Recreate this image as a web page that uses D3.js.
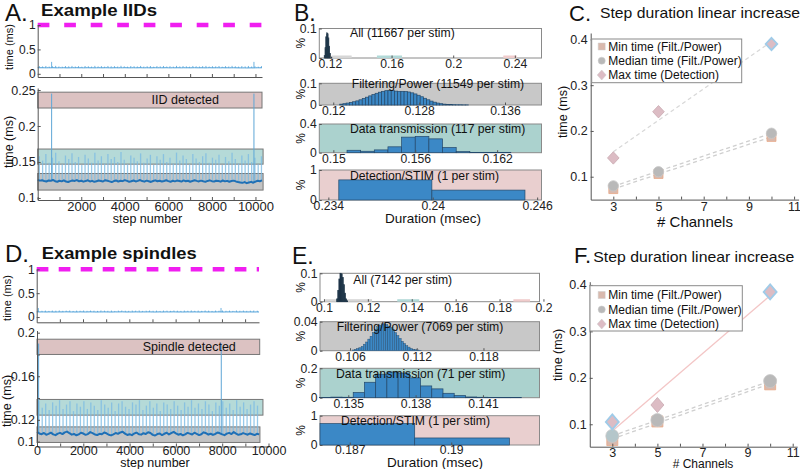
<!DOCTYPE html>
<html>
<head>
<meta charset="utf-8">
<script src="https://cdn.jsdelivr.net/npm/d3@7"></script>
<style>
body { margin: 0; background: #fff; }
</style>
</head>
<body>
<div id="chart"></div>
<script>
const FONT = "'Liberation Sans', Arial, Helvetica, sans-serif";

// ---------------- data ----------------
// step-time traces (ms): baseline sampled every 100 steps, one transmission spike every 150 steps
const baseEvery = 100;
const spikeEvery = 150;
const spikeOffset = 75;
const threshold = 1;

const iidBase = [0.1252,0.1241,0.1247,0.1236,0.1229,0.1244,0.1238,0.1250,0.1233,0.1226,
  0.1239,0.1231,0.1245,0.1228,0.1222,0.1234,0.1243,0.1237,0.1249,0.1232,
  0.1240,0.1227,0.1235,0.1246,0.1230,0.1238,0.1224,0.1233,0.1242,0.1236,
  0.1229,0.1247,0.1239,0.1231,0.1221,0.1235,0.1244,0.1228,0.1240,0.1234,
  0.1248,0.1237,0.1226,0.1232,0.1243,0.1230,0.1238,0.1249,0.1235,0.1227,
  0.1241,0.1233,0.1223,0.1236,0.1245,0.1232,0.1240,0.1229,0.1237,0.1246,
  0.1234,0.1225,0.1239,0.1231,0.1242,0.1236,0.1228,0.1244,0.1233,0.1239,
  0.1226,0.1235,0.1247,0.1238,0.1230,0.1241,0.1232,0.1224,0.1237,0.1245,
  0.1234,0.1229,0.1240,0.1236,0.1227,0.1243,0.1231,0.1238,0.1226,0.1235,
  0.1241,0.1230,0.1222,0.1216,0.1210,0.1221,0.1206,0.1215,0.1224,0.1212,
  0.1228,0.1239,0.1233,0.1245];
const iidSpike = [0.158,0.152,0.161,0.149,0.156,0.163,0.151,0.147,0.159,0.154,
  0.162,0.150,0.157,0.146,0.160,0.155,0.149,0.163,0.152,0.158,
  0.148,0.161,0.154,0.157,0.150,0.164,0.153,0.147,0.159,0.156,
  0.151,0.162,0.149,0.155,0.160,0.146,0.158,0.153,0.161,0.150,
  0.156,0.148,0.163,0.152,0.159,0.154,0.147,0.161,0.155,0.150,
  0.158,0.162,0.149,0.156,0.153,0.160,0.146,0.157,0.151,0.163,
  0.154,0.148,0.159,0.152,0.161,0.150,0.156,0.147,0.158];
const iidBigSteps = [640, 9930];
const iidBigTime = [0.245, 0.245];
const iidBoxLo = [0.225, 0.147, 0.111];
const iidBoxHi = [0.247, 0.168, 0.134];
const iidBoxEnd = [10300, 10350, 10350];

const spinBase = [0.1088,0.1075,0.1068,0.1079,0.1063,0.1071,0.1082,0.1066,0.1059,0.1073,
  0.1080,0.1069,0.1085,0.1092,0.1077,0.1064,0.1070,0.1058,0.1067,0.1081,
  0.1074,0.1062,0.1069,0.1087,0.1078,0.1065,0.1060,0.1072,0.1068,0.1083,
  0.1076,0.1063,0.1057,0.1066,0.1079,0.1071,0.1084,0.1090,0.1073,0.1061,
  0.1068,0.1059,0.1075,0.1082,0.1067,0.1064,0.1077,0.1070,0.1086,0.1079,
  0.1062,0.1056,0.1069,0.1074,0.1060,0.1072,0.1081,0.1066,0.1078,0.1089,
  0.1075,0.1063,0.1070,0.1058,0.1067,0.1080,0.1073,0.1065,0.1082,0.1071,
  0.1060,0.1068,0.1085,0.1077,0.1064,0.1072,0.1061,0.1070,0.1083,0.1076,
  0.1066,0.1059,0.1073,0.1080,0.1069,0.1087,0.1074,0.1062,0.1067,0.1078,
  0.1071,0.1063,0.1075,0.1068,0.1060,0.1072,0.1066];
const spinSpike = [0.137,0.131,0.135,0.129,0.136,0.133,0.138,0.130,0.134,0.137,
  0.128,0.135,0.132,0.137,0.130,0.136,0.133,0.129,0.138,0.134,
  0.131,0.136,0.128,0.135,0.137,0.132,0.130,0.136,0.134,0.138,
  0.129,0.133,0.137,0.131,0.135,0.128,0.136,0.134,0.130,0.137,
  0.133,0.129,0.136,0.132,0.138,0.131,0.135,0.130,0.137,0.134,
  0.128,0.136,0.133,0.137,0.131,0.135,0.129,0.138,0.132,0.136,
  0.130,0.134,0.137,0.133];
const spinBigSteps = [70, 7960];
const spinBigTime = [0.19, 0.19];
const spinBoxLo = [0.180, 0.1243, 0.0992];
const spinBoxHi = [0.194, 0.1387, 0.1135];
const spinBoxEnd = [9620, 9760, 9630];

// histograms (% of steps)
const bLabels = ["All (11667 per stim)", "Filtering/Power (11549 per stim)", "Data transmission (117 per stim)", "Detection/STIM (1 per stim)"];
const bStart = [0.1163, 0.1206, 0.151, 0.2346];
const bWidth = [0.0005, 0.0003, 0.001, 0.00535];
const bAll = [0.008,0.035,0.072,0.085,0.082,0.068,0.040,0.015,0.004,0.001];
const bFilt = [0.004,0.006,0.009,0.012,0.015,0.019,0.024,0.030,0.036,0.042,
  0.048,0.054,0.059,0.063,0.066,0.067,0.066,0.064,0.063,0.063,
  0.062,0.060,0.056,0.051,0.045,0.038,0.031,0.024,0.018,0.013,
  0.009,0.006,0.004,0.003,0.002,0.0015,0.001,0.001,0.0005,0.0005];
const bTrans = [0.034,0.020,0.039,0.082,0.217,0.227,0.193,0.072,0.015,0.005,0.005,0.005];
const bDet = [0.67, 0.33];
const bXDom = [[0.1131, 0.2573], [0.1187, 0.1394], [0.14897, 0.16525], [0.23348, 0.24625]];
const bXTicks = [[0.12, 0.16, 0.2, 0.24], [0.12, 0.128, 0.136], [0.15, 0.156, 0.162], [0.234, 0.24, 0.246]];
const bYMax = [0.1, 0.1, 0.4, 1];
const bRangeLo = [0.1211, 0.1505, 0.2325];
const bRangeHi = [0.1341, 0.1668, 0.2412];

const eLabels = ["All (7142 per stim)", "Filtering/Power (7069 per stim)", "Data transmission (71 per stim)", "Detection/STIM (1 per stim)"];
const eStart = [0.1058, 0.1062, 0.13372, 0.18612];
const eWidth = [0.0005, 0.0002, 0.0005, 0.0028];
const eAll = [0.010,0.040,0.080,0.100,0.098,0.085,0.060,0.030,0.010,0.003];
const eFilt = [0.001,0.002,0.003,0.004,0.006,0.009,0.012,0.016,0.020,0.025,
  0.029,0.033,0.035,0.037,0.037,0.036,0.034,0.032,0.029,0.025,
  0.021,0.017,0.013,0.010,0.007,0.005,0.003,0.002,0.0015,0.001,0.0005];
const eTrans = [0.001,0.004,0.003,0.035,0.105,0.160,0.175,0.168,0.135,0.080,0.060,0.030,0.015,0.005,0.003,0.002,0.001,0.001];
const eDet = [0.73, 0.24];
const eXDom = [[0.0982, 0.1982], [0.1033, 0.12304], [0.13374, 0.14352], [0.18612, 0.19261]];
const eXTicks = [[0.1, 0.12, 0.14, 0.16, 0.18, 0.2], [0.106, 0.112, 0.118], [0.135, 0.138, 0.141], [0.187, 0.19]];
const eYMax = [0.1, 0.04, 0.2, 1];
const eRangeLo = [0.1005, 0.1334, 0.1863];
const eRangeHi = [0.1219, 0.1434, 0.1939];

// step duration vs channels
const channels = [3, 5, 10];
const cMin = [0.073, 0.106, 0.187];
const cMed = [0.080, 0.111, 0.195];
const cMax = [0.141, 0.242, 0.390];
const fMin = [0.066, 0.106, 0.186];
const fMed = [0.075, 0.109, 0.193];
const fMax = [0.105, 0.1415, 0.385];
const legendLabels = ["Min time (Filt./Power)", "Median time (Filt./Power)", "Max time (Detection)"];

// ---------------- drawing ----------------
let svg = d3.select("#chart").append("svg")
  .attr("width", 800).attr("height", 469)
  .attr("font-family", FONT);
svg.append("rect").attr("width", 800).attr("height", 469).attr("fill", "#fff");

const catFill = ["#dcc2c2", "#a8d3d1", "#c3c3c3"];   // detection, transmission, filtering
const histBg = ["#ffffff", "#c8c8c8", "#abd2ce", "#e9cfcf"];

function styleAxis(a, fs) {
  a.attr("font-family", FONT).attr("font-size", fs);
  a.select(".domain").attr("stroke", "#555");
  a.selectAll(".tick line").attr("stroke", "#555");
  a.selectAll(".tick text").attr("fill", "#222");
  return a;
}

function text(g, x, y, s, fs, opts) {
  let t = g.append("text").attr("x", x).attr("y", y).attr("font-size", fs).attr("fill", "#111").text(s);
  if (opts) Object.keys(opts).forEach(k => t.attr(k, opts[k]));
  return t;
}

function tracePanel(L, D) {
  let g = svg.append("g");
  let xT = d3.scaleLinear().domain(L.topX).range(L.topXR);
  let yT = d3.scaleLinear().domain(L.topY).range(L.topYR);
  let xB = d3.scaleLinear().domain(L.botX).range(L.botXR);
  let yB = d3.scaleLinear().domain(L.botY).range(L.botYR);

  let baseAt = s => D.base[Math.min(D.base.length - 1, Math.round(s / baseEvery))];
  let basePts = D.base.map((v, i) => [i * baseEvery, v]);
  let spikes = D.spike.map((v, i) => {
    let s = spikeOffset + i * spikeEvery;
    return {s: s, t: v, b: baseAt(s)};
  });
  let big = D.bigSteps.map((s, i) => ({s: s, t: D.bigTime[i], b: baseAt(s)}));

  // ---- overview ----
  g.append("line")
    .attr("x1", xT.range()[0]).attr("x2", xT.range()[1])
    .attr("y1", yT(threshold)).attr("y2", yT(threshold))
    .attr("stroke", "#f01ef0").attr("stroke-width", 4.5)
    .attr("stroke-dasharray", L.dash);
  g.selectAll(null).data(spikes.concat(big)).join("line")
    .attr("x1", d => xT(d.s)).attr("x2", d => xT(d.s))
    .attr("y1", d => yT(d.b)).attr("y2", d => yT(d.t))
    .attr("stroke", "#6fb3e0").attr("stroke-width", 1);
  g.append("path")
    .attr("d", d3.line().x(p => xT(p[0])).y(p => yT(p[1]))(basePts))
    .attr("fill", "none").attr("stroke", "#4a9ed8").attr("stroke-width", 1);

  styleAxis(g.append("g").attr("transform", `translate(${xT.range()[0]},0)`)
    .call(d3.axisLeft(yT).tickValues([0, 0.5, 1]).tickFormat(d3.format("")).tickSizeInner(-3).tickSizeOuter(0).tickPadding(2)), 12);
  styleAxis(g.append("g").attr("transform", `translate(0,${yT.range()[0]})`)
    .call(d3.axisBottom(xT).tickValues(d3.range(1000, L.topX[1], 1000)).tickFormat("").tickSizeInner(-3).tickSizeOuter(0)), 12);
  text(g, 0, 0, "time (ms)", 11, {transform: `translate(${L.ylabX},${L.topLabY}) rotate(-90)`, "text-anchor": "middle"});

  // ---- detail ----
  D.boxLo.forEach((lo, i) => {
    g.append("rect")
      .attr("x", xB(0)).attr("width", xB(D.boxEnd[i]) - xB(0))
      .attr("y", yB(D.boxHi[i])).attr("height", yB(lo) - yB(D.boxHi[i]))
      .attr("fill", catFill[i]).attr("fill-opacity", i === 1 ? 0.85 : 1)
      .attr("stroke", "#777").attr("stroke-width", 1);
  });
  g.selectAll(null).data(spikes).join("line")
    .attr("x1", d => xB(d.s)).attr("x2", d => xB(d.s))
    .attr("y1", d => yB(d.b)).attr("y2", d => yB(d.t))
    .attr("stroke", "#7dbbe3").attr("stroke-width", 1.3).attr("stroke-opacity", 0.8);
  g.selectAll(null).data(big).join("line")
    .attr("x1", d => xB(d.s)).attr("x2", d => xB(d.s))
    .attr("y1", d => yB(d.b)).attr("y2", d => yB(d.t))
    .attr("stroke", "#5ea6d6").attr("stroke-width", 1);
  g.append("path")
    .attr("d", d3.line().x(p => xB(p[0])).y(p => yB(p[1]))(basePts))
    .attr("fill", "none").attr("stroke", "#1f70b6").attr("stroke-width", 2)
    .attr("stroke-linejoin", "round");
  text(g, L.boxText[0], L.boxText[1], L.boxName, 12.5);

  let yLab = L.botYLabels;
  styleAxis(g.append("g").attr("transform", `translate(${xB.range()[0]},0)`)
    .call(d3.axisLeft(yB).tickValues(L.botYTicks)
      .tickFormat(v => yLab.indexOf(v) >= 0 ? String(v) : "")
      .tickSizeInner(-3).tickSizeOuter(0).tickPadding(2)), 12.5);
  let xLab = L.botXLabels;
  styleAxis(g.append("g").attr("transform", `translate(0,${yB.range()[0]})`)
    .call(d3.axisBottom(xB).tickValues(d3.range(L.botX[0], L.botX[1] + 1, 1000))
      .tickFormat(v => xLab.indexOf(v) >= 0 ? String(v) : "")
      .tickSizeInner(-3).tickSizeOuter(0).tickPadding(L.xPad)), L.xFs);
  text(g, L.xlab[0], L.xlab[1], "step number", 12.5, {"text-anchor": "middle"});
  text(g, 0, 0, "time (ms)", 12.5, {transform: `translate(${L.ylabX},${L.botLabY}) rotate(-90)`, "text-anchor": "middle"});

  // titles
  text(g, L.letter[0], L.letter[1], L.letterText, 24);
  text(g, L.title[0], L.title[1], L.titleText, 17, {"font-weight": "bold", textLength: L.title[2], lengthAdjust: "spacingAndGlyphs"});
}

tracePanel({
  topX: [0, 10300], topXR: [37.7, 262], topY: [-0.065, 1], topYR: [77, 25],
  botX: [0, 10300], botXR: [37.7, 262], botY: [0.0972, 0.2528], botYR: [200, 88],
  botYTicks: [0.1, 0.15, 0.2, 0.25], botYLabels: [0.1, 0.15, 0.2, 0.25],
  botXLabels: [2000, 4000, 6000, 8000, 10000], xPad: 2, xFs: 13,
  dash: "11.7,14.8", ylabX: 13, topLabY: 47, botLabY: 142,
  boxText: [151.5, 103.5], boxName: "IID detected", xlab: [147.5, 223],
  letter: [5, 21], letterText: "A.", title: [41, 15.7, 116], titleText: "Example IIDs"
}, {base: iidBase, spike: iidSpike, bigSteps: iidBigSteps, bigTime: iidBigTime,
    boxLo: iidBoxLo, boxHi: iidBoxHi, boxEnd: iidBoxEnd});

tracePanel({
  topX: [0, 9600], topXR: [36.7, 259], topY: [-0.11, 1], topYR: [322.3, 269.3],
  botX: [0, 10000], botXR: [37, 268.5], botY: [0.0955, 0.202], botYR: [446.5, 330.5],
  botYTicks: [0.1, 0.12, 0.14, 0.16, 0.18, 0.2], botYLabels: [0.1, 0.12, 0.16, 0.2],
  botXLabels: [0, 2000, 4000, 6000, 8000, 10000], xPad: 0, xFs: 12.5,
  dash: "11.7,10.3", ylabX: 11, topLabY: 298, botLabY: 401,
  boxText: [142.7, 350.5], boxName: "Spindle detected", xlab: [155, 467],
  letter: [5, 262], letterText: "D.", title: [41.7, 259, 155], titleText: "Example spindles"
}, {base: spinBase, spike: spinSpike, bigSteps: spinBigSteps, bigTime: spinBigTime,
    boxLo: spinBoxLo, boxHi: spinBoxHi, boxEnd: spinBoxEnd});

// ---- histogram panels (B, E) ----
function histPanel(L, H) {
  let g = svg.append("g");
  H.values.forEach((vals, r) => {
    let x = d3.scaleLinear().domain(H.xDom[r]).range(L.xR);
    let y = d3.scaleLinear().domain([0, H.yMax[r]]).range(L.rows[r]);
    let top = L.rows[r][1], bot = L.rows[r][0];
    g.append("rect").attr("x", L.xR[0]).attr("y", top)
      .attr("width", L.xR[1] - L.xR[0]).attr("height", bot - top)
      .attr("fill", histBg[r]).attr("stroke", "#8a8a8a").attr("stroke-width", 1);
    if (r === 0) {
      H.rangeLo.forEach((lo, k) => {
        g.append("rect").attr("x", x(lo)).attr("width", x(H.rangeHi[k]) - x(lo))
          .attr("y", y(0) - 2.5).attr("height", 2.5)
          .attr("fill", ["#d6d6d6", "#b2d9d8", "#f0cccc"][k]);
      });
    }
    let bars = vals.map((v, i) => ({x0: H.start[r] + i * H.width[r], v: v}));
    let nav = r === 0;
    g.selectAll(null).data(bars).join("rect")
      .attr("x", d => x(d.x0)).attr("width", d => x(d.x0 + H.width[r]) - x(d.x0))
      .attr("y", d => y(d.v)).attr("height", d => y(0) - y(d.v))
      .attr("fill", nav ? "#1d3447" : "#3b88c6")
      .attr("stroke", nav ? "#1d3447" : "#24496b").attr("stroke-width", H.width[r] < 0.00025 && !nav ? 0.4 : 0.7);

    styleAxis(g.append("g").attr("transform", `translate(0,${bot})`)
      .call(d3.axisBottom(x).tickValues(H.xTicks[r]).tickFormat(v => String(v))
        .tickSizeInner(-2.5).tickSizeOuter(0).tickPadding(L.tickPad[r])), 12.2)
      .select(".domain").remove();
    styleAxis(g.append("g").attr("transform", `translate(${L.xR[0]},0)`)
      .call(d3.axisLeft(y).tickValues([0, H.yMax[r]]).tickFormat(v => String(v))
        .tickSizeInner(-2.5).tickSizeOuter(0).tickPadding(2.5)), 12.2)
      .select(".domain").remove();
    text(g, 0, 0, "%", 12, {transform: `translate(${L.pctX},${(top + bot) / 2}) rotate(-90)`, "text-anchor": "middle", "dominant-baseline": "central"});
    text(g, L.labels[r][0], L.labels[r][1], H.labels[r], 12.2, {fill: "#111"});
  });
  text(g, L.xlab[0], L.xlab[1], "Duration (msec)", 13.5, {"text-anchor": "middle"});
  text(g, L.letter[0], L.letter[1], L.letterText, 23);
}

histPanel({
  xR: [319.3, 541.5], rows: [[58, 28.5], [105, 83.3], [152.7, 124], [200, 170]],
  tickPad: [1.5, 1.5, 1.5, 1], pctX: 301,
  labels: [[350, 37.3], [351.7, 87.5], [350, 132.7], [350, 180]],
  xlab: [433, 223], letter: [294, 20.5], letterText: "B."
}, {values: [bAll, bFilt, bTrans, bDet], start: bStart, width: bWidth, xDom: bXDom,
    xTicks: bXTicks, yMax: bYMax, labels: bLabels, rangeLo: bRangeLo, rangeHi: bRangeHi});

histPanel({
  xR: [320, 539.5], rows: [[301.7, 273.3], [350.7, 321.7], [397.7, 368.3], [445, 415.7]],
  tickPad: [1.5, 1.5, 1.5, 0], pctX: 301,
  labels: [[353.3, 284.3], [336.7, 331], [336, 377.7], [341, 425]],
  xlab: [435, 467], letter: [292, 263.5], letterText: "E."
}, {values: [eAll, eFilt, eTrans, eDet], start: eStart, width: eWidth, xDom: eXDom,
    xTicks: eXTicks, yMax: eYMax, labels: eLabels, rangeLo: eRangeLo, rangeHi: eRangeHi});

// ---- scaling panels (C, F) ----
function diamondPath(rx, ry) {
  return `M0,${-ry}L${rx},0L0,${ry}L${-rx},0Z`;
}

function fit(xs, ys) {
  let mx = d3.mean(xs), my = d3.mean(ys);
  let sxy = d3.sum(xs, (v, i) => (v - mx) * (ys[i] - my));
  let sxx = d3.sum(xs, v => (v - mx) * (v - mx));
  let b = sxy / sxx;
  return v => my + b * (v - mx);
}

function scatterPanel(L, S) {
  let g = svg.append("g");
  let x = d3.scaleLinear().domain([2, 11.2]).range(L.xR);
  let y = d3.scaleLinear().domain(L.yDom).range(L.yR);

  // linear trends
  [S.min, S.med, S.max].forEach((ys, k) => {
    let f = fit(channels, ys);
    let ends = [channels[0], channels[channels.length - 1]];
    g.append("path")
      .attr("d", d3.line().x(v => x(v)).y(v => y(f(v)))(ends))
      .attr("fill", "none")
      .attr("stroke", k === 2 ? L.maxLine : "#cfcfcf")
      .attr("stroke-width", 1.3)
      .attr("stroke-dasharray", k === 2 && L.maxSolid ? null : "4,3");
  });

  let sq = d3.symbol(d3.symbolSquare, L.sq * L.sq)();
  let ci = d3.symbol(d3.symbolCircle, Math.PI * L.r * L.r)();
  let di = diamondPath(L.dx, L.dy);
  g.selectAll(null).data(channels).join("path")
    .attr("d", sq).attr("transform", (c, i) => `translate(${x(c)},${y(S.min[i])})`)
    .attr("fill", "#d9b9ad").attr("stroke", "#e8a886").attr("stroke-width", 0.8);
  g.selectAll(null).data(channels).join("path")
    .attr("d", ci).attr("transform", (c, i) => `translate(${x(c)},${y(S.med[i])})`)
    .attr("fill", (c, i) => S.medFill[i]).attr("stroke", "#c8c8c8").attr("stroke-width", 0.8);
  g.selectAll(null).data(channels).join("path")
    .attr("d", di).attr("transform", (c, i) => `translate(${x(c)},${y(S.max[i])})`)
    .attr("fill", "#dcbcc4").attr("stroke", (c, i) => S.maxEdge[i])
    .attr("stroke-width", (c, i) => S.maxEdge[i] === "#9fcbe8" ? 1.8 : 0.8);

  styleAxis(g.append("g").attr("transform", `translate(0,${L.yR[0]})`)
    .call(d3.axisBottom(x).tickValues(d3.range(3, 12, 1))
      .tickFormat(v => v % 2 === 1 ? String(v) : "")
      .tickSizeInner(-3).tickSizeOuter(0).tickPadding(L.xPad)), 12.5);
  styleAxis(g.append("g").attr("transform", `translate(${L.xR[0]},0)`)
    .call(d3.axisLeft(y).tickValues([0.1, 0.2, 0.3, 0.4]).tickFormat(d3.format(".1f"))
      .tickSizeInner(-3).tickSizeOuter(0).tickPadding(3)), 12.5);

  // legend
  let lg = g.append("g");
  lg.append("rect").attr("x", L.leg[0]).attr("y", L.leg[1])
    .attr("width", L.leg[2]).attr("height", L.leg[3])
    .attr("fill", "#fff").attr("stroke", "#8a8a8a").attr("stroke-width", 1);
  let legMarks = [d3.symbol(d3.symbolSquare, 49)(), d3.symbol(d3.symbolCircle, 40)(), diamondPath(4.5, 5)];
  let legFill = ["#d9b9ad", "#b9b9b9", "#dcbcc4"];
  legendLabels.forEach((s, i) => {
    let ly = L.legY[i];
    lg.append("path").attr("d", legMarks[i]).attr("transform", `translate(${L.legMX},${ly})`)
      .attr("fill", legFill[i]).attr("stroke", "#ccc").attr("stroke-width", 0.5);
    text(lg, L.legTX, ly + 4.3, s, 12);
  });

  text(g, L.xlab[0], L.xlab[1], "# Channels", L.xlabFs, {"text-anchor": "middle"});
  text(g, 0, 0, "time (ms)", 12.5, {transform: `translate(${L.ylab[0]},${L.ylab[1]}) rotate(-90)`, "text-anchor": "middle", "dominant-baseline": "central"});
  text(g, L.letter[0], L.letter[1], L.letterText, 22);
  text(g, L.title[0], L.title[1], "Step duration linear increase", 15, {textLength: L.title[2], lengthAdjust: "spacingAndGlyphs"});
}

scatterPanel({
  xR: [590.7, 798.6], yDom: [0.05, 0.414], yR: [199.6, 33], xPad: 3,
  maxLine: "#d8d8d8", maxSolid: false,
  sq: 9, r: 5.2, dx: 5.8, dy: 6.2,
  leg: [591.7, 39, 150, 43.7], legY: [46.5, 60.7, 75], legMX: 601.7, legTX: 608.3,
  xlab: [695, 226.5], xlabFs: 15, ylab: [563.3, 112],
  letter: [569, 21], letterText: "C.", title: [600, 18.3, 200]
}, {min: cMin, med: cMed, max: cMax,
    medFill: ["#b9b9b9", "#b9b9b9", "#b9b9b9"], maxEdge: ["#c9a9b1", "#c9a9b1", "#9fcbe8"]});

scatterPanel({
  xR: [589.75, 797.2], yDom: [0.0517, 0.407], yR: [446.7, 281.7], xPad: 1,
  maxLine: "#f3c6c6", maxSolid: true,
  sq: 11, r: 6.5, dx: 6.5, dy: 7.5,
  leg: [590, 285.7, 152.3, 45.3], legY: [295, 309.5, 324], legMX: 601.7, legTX: 608.3,
  xlab: [703, 467.5], xlabFs: 12, ylab: [558.3, 355],
  letter: [574, 263], letterText: "F.", title: [593.3, 261.7, 201]
}, {min: fMin, med: fMed, max: fMax,
    medFill: ["#b4c6ca", "#b9b9b9", "#b9b9b9"], maxEdge: ["#9fcbe8", "#c9a9b1", "#9fcbe8"]});
</script>
</body>
</html>
